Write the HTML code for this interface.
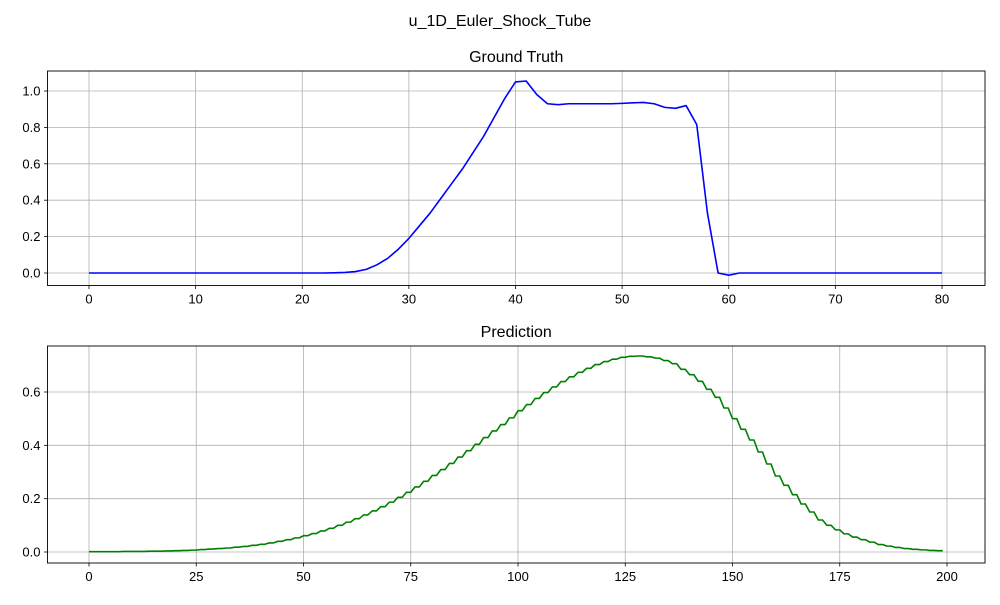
<!DOCTYPE html>
<html><head><meta charset="utf-8"><style>
body{margin:0;background:#fff}
text{font-family:"Liberation Sans","DejaVu Sans",sans-serif;fill:#000}
</style></head><body>
<svg id="fig" width="1000" height="600" xmlns="http://www.w3.org/2000/svg">
<text x="500" y="26" text-anchor="middle" font-size="16">u_1D_Euler_Shock_Tube</text>
</svg>
<script>
const gtX = Array.from({length:81},(_, i)=>i);
const gtValues = [0,0,0,0,0,0,0,0,0,0,0,0,0,0,0,0,0,0,0,0,0,0,0,0.001,0.003,0.008,0.02,0.045,0.08,0.13,0.19,0.26,0.33,0.41,0.49,0.57,0.66,0.75,0.855,0.96,1.05,1.055,0.98,0.93,0.925,0.93,0.93,0.93,0.93,0.93,0.932,0.935,0.937,0.93,0.91,0.905,0.92,0.815,0.33,0.0,-0.012,0,0,0,0,0,0,0,0,0,0,0,0,0,0,0,0,0,0,0,0];
const gtXTicks = [0,10,20,30,40,50,60,70,80];
const gtYTicks = [0.0,0.2,0.4,0.6,0.8,1.0];
const gtYLabels = ["0.0","0.2","0.4","0.6","0.8","1.0"];
// prediction: value per pair of indices (step pattern)
const predPairs = [0.001,0.001,0.001,0.001,0.002,0.002,0.002,0.003,0.003,0.004,
0.005,0.006,0.007,0.009,0.011,0.013,0.015,0.018,0.021,0.025,
0.029,0.034,0.040,0.046,0.053,0.061,0.069,0.079,0.089,0.100,
0.112,0.125,0.139,0.154,0.170,0.187,0.205,0.224,0.244,0.265,
0.287,0.309,0.332,0.356,0.380,0.404,0.429,0.454,0.478,0.503,
0.530,0.553,0.576,0.598,0.619,0.639,0.657,0.674,0.689,0.703,
0.714,0.723,0.730,0.734,0.735,0.732,0.727,0.718,0.706,0.685,
0.665,0.640,0.610,0.580,0.540,0.500,0.460,0.420,0.375,0.330,
0.285,0.250,0.215,0.180,0.150,0.120,0.100,0.083,0.068,0.056,
0.046,0.037,0.028,0.022,0.017,0.013,0.010,0.008,0.006,0.005];
const predXTicks = [0,25,50,75,100,125,150,175,200];
const predYTicks = [0.0,0.2,0.4,0.6];
const predYLabels = ["0.0","0.2","0.4","0.6"];

const NS="http://www.w3.org/2000/svg";
const svg=document.getElementById('fig');
function mk(tag,attrs,parent){const e=document.createElementNS(NS,tag);for(const k in attrs)e.setAttribute(k,attrs[k]);(parent||svg).appendChild(e);return e;}

function panel(opt){
  const g=mk('g',{});
  
  
  const L=47.5,R=985,T=opt.top,B=opt.bottom;
  const sx=v=>opt.px0+(v-opt.x0)*(opt.px1-opt.px0)/(opt.x1-opt.x0);
  const sy=v=>opt.py0+(v-opt.y0)*(opt.py1-opt.py0)/(opt.y1-opt.y0);
  opt.xTicks.forEach(t=>{
    const x=sx(t);
    const gl=mk('line',{x1:x,x2:x,y1:T,y2:B,stroke:'#b0b0b0','stroke-width':0.8},g);
    
    
    mk('line',{x1:x,x2:x,y1:B,y2:B+3.5,stroke:'#000','stroke-width':0.8},g);
    const tx=mk('text',{x:x,y:B+18,'text-anchor':'middle','font-size':13},g);
    tx.textContent=String(t);
    
    
  });
  opt.yTicks.forEach((t,i)=>{
    const y=sy(t);
    const gl=mk('line',{x1:L,x2:R,y1:y,y2:y,stroke:'#b0b0b0','stroke-width':0.8},g);
    
    
    mk('line',{x1:L-3.5,x2:L,y1:y,y2:y,stroke:'#000','stroke-width':0.8},g);
    const tx=mk('text',{x:L-7,y:y+4.5,'text-anchor':'end','font-size':13},g);
    tx.textContent=opt.yLabels[i];
    
    
  });
  const pts=opt.xs.map((x,i)=>sx(x).toFixed(2)+','+sy(opt.ys[i]).toFixed(2)).join(' ');
  const line=mk('polyline',{points:pts,fill:'none',stroke:opt.color,'stroke-width':1.6,'stroke-linejoin':'round'},g);
  
  
  const fr=mk('rect',{x:L,y:T,width:R-L,height:B-T,fill:'none',stroke:'#000','stroke-width':0.9},g);
  
  
  const tt=mk('text',{x:(L+R)/2,y:T-9,'text-anchor':'middle','font-size':16},g);
  tt.textContent=opt.title;
  
  
}

panel({name:'ground-truth-panel',top:71,bottom:285.5,x0:0,x1:80,px0:89,px1:942,y0:0,y1:1,py0:273,py1:91,
  xTicks:gtXTicks,yTicks:gtYTicks,yLabels:gtYLabels,xs:gtX,ys:gtValues,color:'#0000ff',lineName:'ground-truth-line',title:'Ground Truth',titleName:'ground-truth-title'});

const predX=[],predY=[];
predPairs.forEach((v,k)=>{predX.push(2*k,2*k+1);predY.push(v,v);});
panel({name:'prediction-panel',top:346,bottom:563,x0:0,x1:200,px0:89,px1:947,y0:0,y1:0.6,py0:552,py1:392,
  xTicks:predXTicks,yTicks:predYTicks,yLabels:predYLabels,xs:predX,ys:predY,color:'#008000',lineName:'prediction-line',title:'Prediction',titleName:'prediction-title'});
</script>
</body></html>
